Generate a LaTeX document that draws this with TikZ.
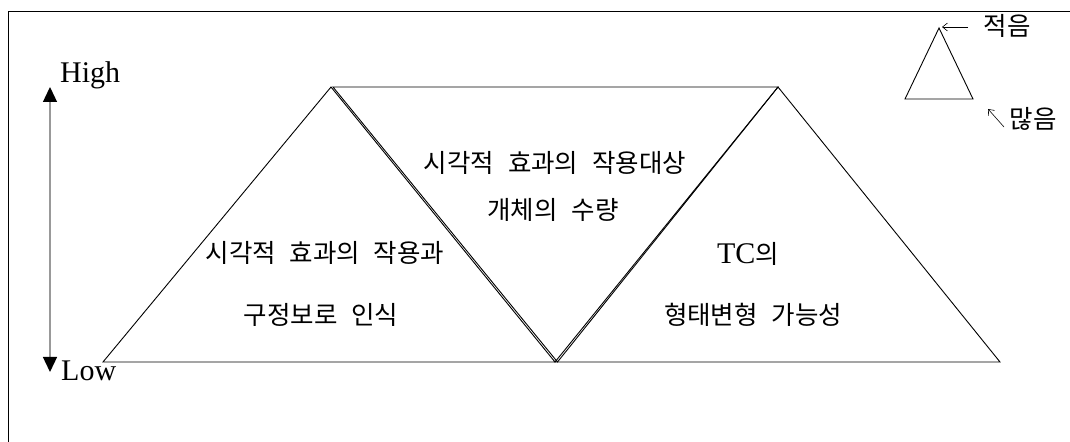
\documentclass[tikz,border=0pt]{standalone}
\usepackage{fontspec}
\setmainfont{Liberation Serif}
\newfontfamily\kr[WordSpace=2.4]{Noto Sans CJK KR}
\newfontfamily\lat{Liberation Serif}
\usetikzlibrary{arrows.meta}
\begin{document}
\begin{tikzpicture}[x=1bp,y=-1bp,
  tri/.style={draw=black,line width=0.9bp,line join=miter},
  krtext/.style={font=\kr\fontsize{25.5bp}{28bp}\selectfont,inner sep=0pt},
  lattext/.style={font=\lat\fontsize{30bp}{32bp}\selectfont,inner sep=0pt},
  frameline/.style={draw=black,line width=0.9bp},
  scalearrow/.style={draw=gray!80,line width=1.3bp,{Triangle[length=15bp,width=14bp,color=black]}-{Triangle[length=15bp,width=14bp,color=black]}},
  smallarrow/.style={draw=black,line width=0.6bp,-{Straight Barb[length=5bp,width=8bp]}}]
\useasboundingbox (0,0) rectangle (1070,442);
% frame
\draw[frameline] (1070,11) -- (8,11) -- (8,442);
% scale arrow
\coordinate (hi) at (50,87);
\coordinate (lo) at (50,372);
\draw[scalearrow] (hi) -- (lo);
\node[lattext,anchor=base west] (high) at (60,83) {High};
\node[lattext,anchor=base west] (low) at (61,381) {Low};
% main triangles
\coordinate (A) at (103,362);
\coordinate (B) at (331,87);
\coordinate (C) at (555,362);
\coordinate (B2) at (333,87);
\coordinate (C2) at (557.5,362);
\coordinate (D) at (778,87);
\coordinate (E) at (1000,362);
\draw[tri] (A) -- (B) -- (C) -- cycle;
\draw[tri] (B2) -- (D) -- (C2) -- cycle;
\draw[tri] (C) -- (D) -- (E) -- cycle;
% labels
\node[krtext] (m1) at (555,163) {시각적 효과의 작용대상};
\node[krtext] (m2) at (553,210) {개체의 수량};
\node[krtext] (l1) at (325,253) {시각적 효과의 작용과};
\node[krtext] (l2) at (321,315) {구정보로 인식};
\node[inner sep=0pt] (r1) at (748,254) {{\lat\fontsize{30bp}{32bp}\selectfont TC}{\kr\fontsize{25.5bp}{28bp}\selectfont 의}};
\node[krtext] (r2) at (753,315) {형태변형 가능성};
% legend triangle
\coordinate (s1) at (939,28);
\coordinate (s2) at (905,99);
\coordinate (s3) at (973,99);
\draw[tri] (s1) -- (s2) -- (s3) -- cycle;
\node[krtext] (few) at (1007,26) {적음};
\node[krtext] (many) at (1033,119) {많음};
\coordinate (fa) at (968,27);
\coordinate (fb) at (942,27);
\coordinate (ma) at (1004,127);
\coordinate (mb) at (988,109);
\draw[smallarrow] (fa) -- (fb);
\draw[smallarrow] (ma) -- (mb);
\end{tikzpicture}
\end{document}
